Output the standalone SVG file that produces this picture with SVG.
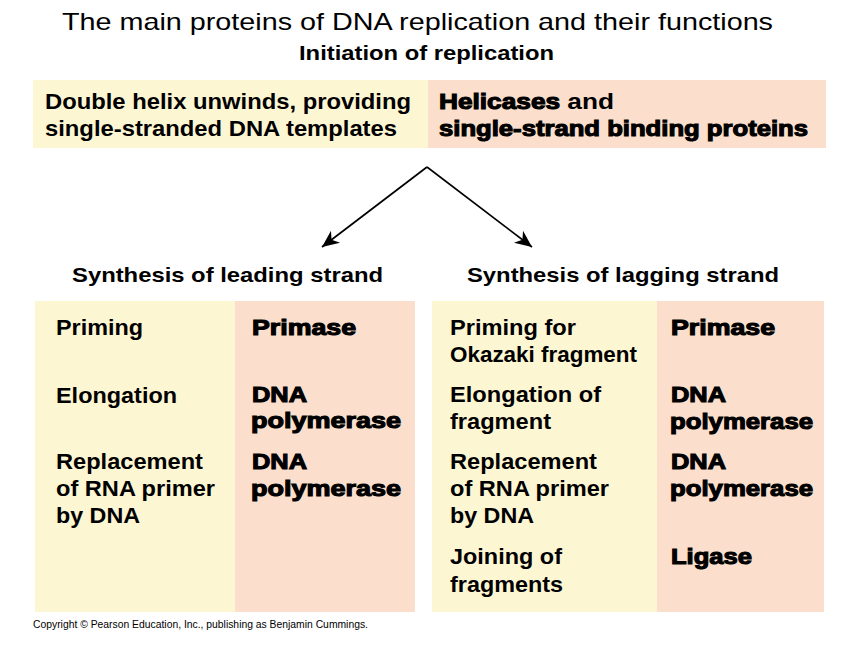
<svg xmlns="http://www.w3.org/2000/svg" width="864" height="648" viewBox="0 0 864 648">
<style>
text{font-family:"Liberation Sans",Arial,sans-serif;fill:#000}
.title{font-size:24px}
.hdr{font-size:21px;font-weight:bold}
.lab{font-size:22px;font-weight:bold}
.heavy{font-size:22px;font-weight:bold;stroke:#000;stroke-width:1.1}
.reg{font-size:22px}
.yel{fill:#FDF6D3}
.pink{fill:#FBDFCC}
.conn{stroke:#000;stroke-width:1.6;fill:none}
.copy{font-size:10px}
</style>
<defs>
<marker id="ah" markerUnits="userSpaceOnUse" markerWidth="22" markerHeight="18" viewBox="-18 -9 20 18" refX="0" refY="0" orient="auto">
<path d="M0,0 L-17,-7.5 L-12,0 L-17,7.5 Z" fill="#000"/>
</marker>
</defs>
<rect width="864" height="648" fill="#fff"/>
<g id="title">
<text class="title" x="62" y="30" textLength="711" lengthAdjust="spacingAndGlyphs">The main proteins of DNA replication and their functions</text>
</g>
<g id="initiation">
<text class="hdr" x="299" y="60" textLength="255" lengthAdjust="spacingAndGlyphs">Initiation of replication</text>
<rect class="yel" x="33" y="80" width="395" height="68"/>
<rect class="pink" x="428" y="80" width="398" height="68"/>
<text class="lab" x="45" y="109" textLength="366" lengthAdjust="spacingAndGlyphs">Double helix unwinds, providing</text>
<text class="lab" x="45" y="136" textLength="352" lengthAdjust="spacingAndGlyphs">single-stranded DNA templates</text>
<text x="439" y="109" textLength="175" lengthAdjust="spacingAndGlyphs"><tspan class="heavy">Helicases</tspan><tspan class="reg" style="font-weight:bold"> and</tspan></text>
<text class="heavy" x="439" y="136" textLength="369" lengthAdjust="spacingAndGlyphs">single-strand binding proteins</text>
</g>
<g id="connectors">
<line class="conn" x1="427" y1="167" x2="322" y2="247" marker-end="url(#ah)"/>
<line class="conn" x1="427" y1="167" x2="532" y2="247" marker-end="url(#ah)"/>
</g>
<g id="leading">
<text class="hdr" x="72" y="282" textLength="311" lengthAdjust="spacingAndGlyphs">Synthesis of leading strand</text>
<rect class="yel" x="35" y="301" width="200" height="311"/>
<rect class="pink" x="235" y="301" width="180" height="311"/>
<text class="lab" x="56" y="335" textLength="87" lengthAdjust="spacingAndGlyphs">Priming</text>
<text class="lab" x="56" y="403" textLength="121" lengthAdjust="spacingAndGlyphs">Elongation</text>
<text class="lab" x="56" y="469" textLength="147" lengthAdjust="spacingAndGlyphs">Replacement</text>
<text class="lab" x="56" y="496" textLength="159" lengthAdjust="spacingAndGlyphs">of RNA primer</text>
<text class="lab" x="56" y="523" textLength="84" lengthAdjust="spacingAndGlyphs">by DNA</text>
<text class="heavy" x="252" y="335" textLength="104" lengthAdjust="spacingAndGlyphs">Primase</text>
<text class="heavy" x="252" y="402" textLength="55" lengthAdjust="spacingAndGlyphs">DNA</text>
<text class="heavy" x="251" y="428" textLength="150" lengthAdjust="spacingAndGlyphs">polymerase</text>
<text class="heavy" x="252" y="469" textLength="55" lengthAdjust="spacingAndGlyphs">DNA</text>
<text class="heavy" x="251" y="496" textLength="150" lengthAdjust="spacingAndGlyphs">polymerase</text>
</g>
<g id="lagging">
<text class="hdr" x="467" y="282" textLength="312" lengthAdjust="spacingAndGlyphs">Synthesis of lagging strand</text>
<rect class="yel" x="432" y="301" width="225" height="311"/>
<rect class="pink" x="657" y="301" width="167" height="311"/>
<text class="lab" x="450" y="335" textLength="126" lengthAdjust="spacingAndGlyphs">Priming for</text>
<text class="lab" x="450" y="362" textLength="187" lengthAdjust="spacingAndGlyphs">Okazaki fragment</text>
<text class="lab" x="450" y="402" textLength="151" lengthAdjust="spacingAndGlyphs">Elongation of</text>
<text class="lab" x="450" y="429" textLength="101" lengthAdjust="spacingAndGlyphs">fragment</text>
<text class="lab" x="450" y="469" textLength="147" lengthAdjust="spacingAndGlyphs">Replacement</text>
<text class="lab" x="450" y="496" textLength="159" lengthAdjust="spacingAndGlyphs">of RNA primer</text>
<text class="lab" x="450" y="523" textLength="84" lengthAdjust="spacingAndGlyphs">by DNA</text>
<text class="lab" x="450" y="564" textLength="112" lengthAdjust="spacingAndGlyphs">Joining of</text>
<text class="lab" x="450" y="592" textLength="113" lengthAdjust="spacingAndGlyphs">fragments</text>
<text class="heavy" x="671" y="335" textLength="104" lengthAdjust="spacingAndGlyphs">Primase</text>
<text class="heavy" x="671" y="402" textLength="55" lengthAdjust="spacingAndGlyphs">DNA</text>
<text class="heavy" x="670" y="429" textLength="143" lengthAdjust="spacingAndGlyphs">polymerase</text>
<text class="heavy" x="671" y="469" textLength="55" lengthAdjust="spacingAndGlyphs">DNA</text>
<text class="heavy" x="670" y="496" textLength="143" lengthAdjust="spacingAndGlyphs">polymerase</text>
<text class="heavy" x="671" y="564" textLength="81" lengthAdjust="spacingAndGlyphs">Ligase</text>
</g>
<g id="copyright">
<text class="copy" x="33" y="628" textLength="335" lengthAdjust="spacingAndGlyphs">Copyright © Pearson Education, Inc., publishing as Benjamin Cummings.</text>
</g>
</svg>
